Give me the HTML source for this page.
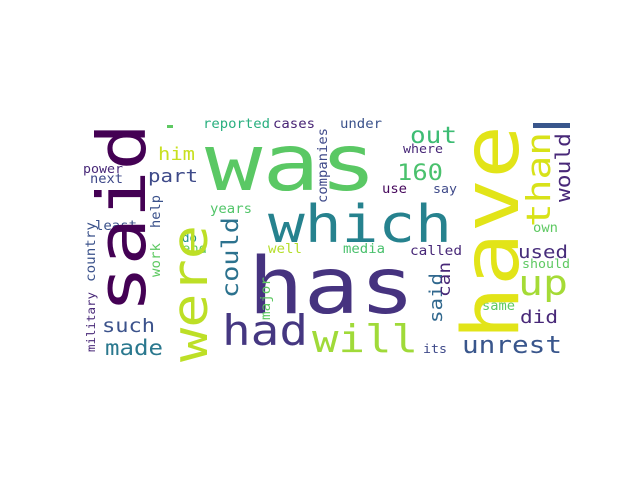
<!DOCTYPE html>
<html><head><meta charset="utf-8"><style>
html,body{margin:0;padding:0;background:#fff;width:640px;height:480px;overflow:hidden}
svg text{font-family:"DejaVu Sans Mono","Liberation Mono",monospace}
</style></head><body>
<svg width="640" height="480" viewBox="0 0 640 480">
<rect width="640" height="480" fill="#fff"/>
<g>
<text x="205" y="190" font-size="78" fill="#5ac864" textLength="172" lengthAdjust="spacingAndGlyphs">was</text>
<text x="268" y="242" font-size="52" fill="#26828e" textLength="184" lengthAdjust="spacingAndGlyphs">which</text>
<text x="248" y="313" font-size="78" fill="#46337f" textLength="167" lengthAdjust="spacingAndGlyphs">has</text>
<text x="222" y="345" font-size="42" fill="#453781" textLength="86" lengthAdjust="spacingAndGlyphs">had</text>
<text x="312" y="352" font-size="38" fill="#a0da39" textLength="106" lengthAdjust="spacingAndGlyphs">will</text>
<text x="462" y="353" font-size="24" fill="#39568c" textLength="100" lengthAdjust="spacingAndGlyphs">unrest</text>
<text x="410" y="143" font-size="23" fill="#3dbc74" textLength="47" lengthAdjust="spacingAndGlyphs">out</text>
<text x="397" y="180" font-size="22" fill="#4ac16d" textLength="46" lengthAdjust="spacingAndGlyphs">160</text>
<text x="518" y="258" font-size="18" fill="#472d7b" textLength="50" lengthAdjust="spacingAndGlyphs">used</text>
<text x="518" y="295" font-size="35" fill="#a5db36" textLength="50" lengthAdjust="spacingAndGlyphs">up</text>
<text x="520" y="323" font-size="18" fill="#482878" textLength="38" lengthAdjust="spacingAndGlyphs">did</text>
<text x="102" y="332" font-size="19" fill="#3b528b" textLength="53" lengthAdjust="spacingAndGlyphs">such</text>
<text x="105" y="355" font-size="21" fill="#2a788e" textLength="58" lengthAdjust="spacingAndGlyphs">made</text>
<text x="148" y="182" font-size="18" fill="#3e4a89" textLength="50" lengthAdjust="spacingAndGlyphs">part</text>
<text x="158" y="160" font-size="18" fill="#c8e020" textLength="37" lengthAdjust="spacingAndGlyphs">him</text>
<text x="203" y="128" font-size="13" fill="#29af7f" textLength="67" lengthAdjust="spacingAndGlyphs">reported</text>
<text x="273" y="128" font-size="13" fill="#482475" textLength="42" lengthAdjust="spacingAndGlyphs">cases</text>
<text x="340" y="128" font-size="13" fill="#3b528b" textLength="42" lengthAdjust="spacingAndGlyphs">under</text>
<text x="403" y="153" font-size="12" fill="#482878" textLength="40" lengthAdjust="spacingAndGlyphs">where</text>
<text x="433" y="193" font-size="12" fill="#3e4989" textLength="24" lengthAdjust="spacingAndGlyphs">say</text>
<text x="382" y="193" font-size="13" fill="#46085c" textLength="25" lengthAdjust="spacingAndGlyphs">use</text>
<text x="210" y="213" font-size="13" fill="#52c569" textLength="42" lengthAdjust="spacingAndGlyphs">years</text>
<text x="83" y="173" font-size="12" fill="#482878" textLength="40" lengthAdjust="spacingAndGlyphs">power</text>
<text x="90" y="183" font-size="13" fill="#3e4989" textLength="33" lengthAdjust="spacingAndGlyphs">next</text>
<text x="95" y="230" font-size="13" fill="#3b528b" textLength="42" lengthAdjust="spacingAndGlyphs">least</text>
<text x="182" y="242" font-size="12" fill="#21918c" textLength="15" lengthAdjust="spacingAndGlyphs">do</text>
<text x="182" y="253" font-size="13" fill="#5ec962" textLength="25" lengthAdjust="spacingAndGlyphs">end</text>
<text x="268" y="253" font-size="13" fill="#b5de2b" textLength="34" lengthAdjust="spacingAndGlyphs">well</text>
<text x="343" y="253" font-size="13" fill="#4ac16d" textLength="42" lengthAdjust="spacingAndGlyphs">media</text>
<text x="410" y="255" font-size="13" fill="#482878" textLength="52" lengthAdjust="spacingAndGlyphs">called</text>
<text x="533" y="232" font-size="13" fill="#5ec962" textLength="25" lengthAdjust="spacingAndGlyphs">own</text>
<text x="522" y="268" font-size="12" fill="#5ec962" textLength="48" lengthAdjust="spacingAndGlyphs">should</text>
<text x="482" y="310" font-size="13" fill="#5ec962" textLength="33" lengthAdjust="spacingAndGlyphs">same</text>
<text x="423" y="353" font-size="12" fill="#3e4989" textLength="24" lengthAdjust="spacingAndGlyphs">its</text>
<rect x="167" y="125" width="6" height="3" fill="#5ec962"/>
<rect x="533" y="123" width="37" height="5" fill="#39568c"/>
<text transform="translate(145,313) rotate(-90)" font-size="67" fill="#440154" textLength="190" lengthAdjust="spacingAndGlyphs">said</text>
<text transform="translate(207,362) rotate(-90)" font-size="49" fill="#bddf26" textLength="137" lengthAdjust="spacingAndGlyphs">were</text>
<text transform="translate(518,340) rotate(-90)" font-size="78" fill="#e2e418" textLength="215" lengthAdjust="spacingAndGlyphs">have</text>
<text transform="translate(550,227) rotate(-90)" font-size="33" fill="#d8e219" textLength="95" lengthAdjust="spacingAndGlyphs">than</text>
<text transform="translate(570,202) rotate(-90)" font-size="20" fill="#482878" textLength="69" lengthAdjust="spacingAndGlyphs">would</text>
<text transform="translate(238,298) rotate(-90)" font-size="23" fill="#2c728e" textLength="81" lengthAdjust="spacingAndGlyphs">could</text>
<text transform="translate(442,323) rotate(-90)" font-size="18" fill="#31688e" textLength="50" lengthAdjust="spacingAndGlyphs">said</text>
<text transform="translate(450,297) rotate(-90)" font-size="17" fill="#482878" textLength="35" lengthAdjust="spacingAndGlyphs">can</text>
<text transform="translate(327,203) rotate(-90)" font-size="13" fill="#3e4989" textLength="75" lengthAdjust="spacingAndGlyphs">companies</text>
<text transform="translate(160,228) rotate(-90)" font-size="13" fill="#3b528b" textLength="33" lengthAdjust="spacingAndGlyphs">help</text>
<text transform="translate(160,277) rotate(-90)" font-size="13" fill="#5ec962" textLength="34" lengthAdjust="spacingAndGlyphs">work</text>
<text transform="translate(270,320) rotate(-90)" font-size="13" fill="#5ec962" textLength="43" lengthAdjust="spacingAndGlyphs">major</text>
<text transform="translate(95,282) rotate(-90)" font-size="13" fill="#3b528b" textLength="60" lengthAdjust="spacingAndGlyphs">country</text>
<text transform="translate(95,352) rotate(-90)" font-size="11.5" fill="#482878" textLength="60" lengthAdjust="spacingAndGlyphs">military</text>
</g>
</svg>
</body></html>
